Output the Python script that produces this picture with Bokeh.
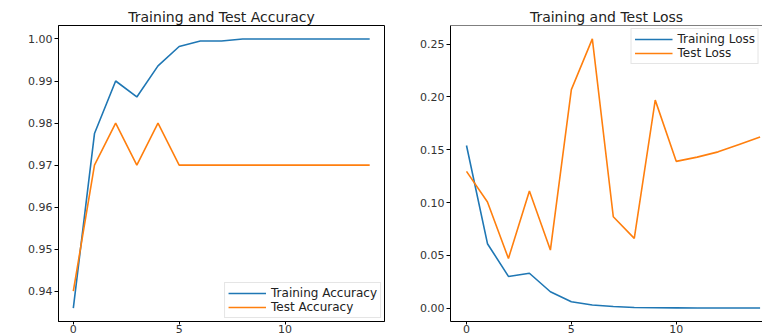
from bokeh.plotting import figure
from bokeh.layouts import row
from bokeh.models import Range1d, FixedTicker, NumeralTickFormatter, Span, Legend
from bokeh.embed import file_html
from bokeh.resources import INLINE

epochs = list(range(15))
train_acc = [0.936, 0.9775, 0.990, 0.9862, 0.9936, 0.9982, 0.9995, 0.9995,
             1.0, 1.0, 1.0, 1.0, 1.0, 1.0, 1.0]
test_acc = [0.94, 0.97, 0.98, 0.97, 0.98, 0.97, 0.97, 0.97,
            0.97, 0.97, 0.97, 0.97, 0.97, 0.97, 0.97]
train_loss = [0.154, 0.061, 0.030, 0.033, 0.0155, 0.006, 0.003, 0.0015,
              0.0005, 0.0003, 0.0002, 0.0001, 0.0001, 0.0001, 0.0001]
test_loss = [0.1295, 0.1005, 0.047, 0.111, 0.055, 0.207, 0.255, 0.0865,
             0.066, 0.197, 0.139, 0.143, 0.148, 0.155, 0.162]

acc_ticks = [0.94, 0.95, 0.96, 0.97, 0.98, 0.99, 1.00]
loss_ticks = [0.00, 0.05, 0.10, 0.15, 0.20, 0.25]
x_ticks = [0, 5, 10]

BLUE = "#1f77b4"
ORANGE = "#ff7f0e"
FONT = "DejaVu Sans"


def style(p, yticks):
    p.title.text_font = FONT
    p.title.text_font_size = "14px"
    p.title.text_font_style = "normal"
    p.title.align = "center"
    p.title.text_color = "#222222"
    p.title.standoff = 2
    p.xgrid.visible = False
    p.ygrid.visible = False
    p.background_fill_color = "white"
    p.border_fill_color = "white"
    for ax in (p.xaxis[0], p.yaxis[0]):
        ax.axis_line_color = "black"
        ax.major_tick_line_color = "black"
        ax.major_tick_out = 4
        ax.major_tick_in = 0
        ax.minor_tick_line_color = None
        ax.major_label_text_font = FONT
        ax.major_label_text_font_size = "11px"
        ax.major_label_text_color = "#333333"
        ax.major_label_standoff = 2
    p.xaxis[0].major_label_standoff = 0
    p.xaxis[0].major_tick_out = 3
    p.xaxis[0].ticker = FixedTicker(ticks=x_ticks)
    p.yaxis[0].ticker = FixedTicker(ticks=yticks)
    p.yaxis[0].formatter = NumeralTickFormatter(format="0.00")


def legend_style(lg):
    lg.label_text_font = FONT
    lg.label_text_font_size = "12px"
    lg.label_text_color = "#222222"
    lg.glyph_width = 38
    lg.glyph_height = 10
    lg.label_height = 10
    lg.spacing = 0
    lg.padding = 3
    lg.margin = 3
    lg.border_line_color = "#cccccc"
    lg.background_fill_alpha = 0.85


p1 = figure(width=400, height=335, output_backend="svg", toolbar_location=None,
            title="Training and Test Accuracy",
            x_range=Range1d(-0.7, 14.7), y_range=Range1d(0.9328, 1.0032),
            min_border_left=58, min_border_right=16, min_border_top=25, min_border_bottom=0)
style(p1, acc_ticks)
p1.outline_line_color = "black"
p1.outline_line_alpha = 1.0
r1 = p1.line(epochs, train_acc, line_color=BLUE, line_width=1.6)
r2 = p1.line(epochs, test_acc, line_color=ORANGE, line_width=1.6)
lg1 = Legend(items=[("Training Accuracy", [r1]), ("Test Accuracy", [r2])],
             location="bottom_right")
legend_style(lg1)
p1.add_layout(lg1)

p2 = figure(width=362, height=335, output_backend="svg", toolbar_location=None,
            title="Training and Test Loss",
            x_range=Range1d(-0.763, 14.115), y_range=Range1d(-0.0127, 0.2677),
            min_border_left=50, min_border_right=0, min_border_top=25, min_border_bottom=0)
style(p2, loss_ticks)
p2.outline_line_color = None
p2.add_layout(Span(location=0.2677, dimension="width", line_color="black", line_width=1))
r3 = p2.line(epochs, train_loss, line_color=BLUE, line_width=1.6)
r4 = p2.line(epochs, test_loss, line_color=ORANGE, line_width=1.6)
lg2 = Legend(items=[("Training Loss", [r3]), ("Test Loss", [r4])],
             location="top_right")
legend_style(lg2)
p2.add_layout(lg2)

layout = row(p1, p2, spacing=0)
open("out.html", "w").write(file_html(layout, INLINE))
